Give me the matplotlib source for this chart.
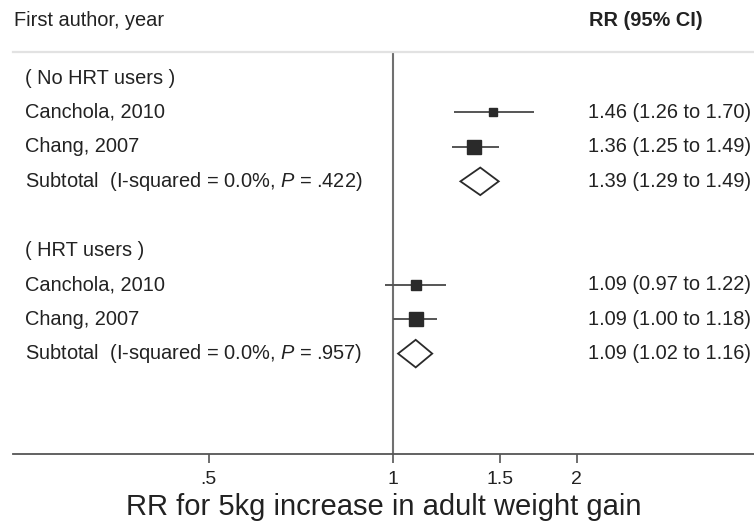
import matplotlib
matplotlib.use("Agg")
import matplotlib.pyplot as plt
from matplotlib.patches import Polygon
from matplotlib.transforms import blended_transform_factory

plt.rcParams["font.family"] = ["Liberation Sans", "DejaVu Sans"]
plt.rcParams["mathtext.fontset"] = "custom"
plt.rcParams["mathtext.rm"] = "Liberation Sans"
plt.rcParams["mathtext.it"] = "Liberation Sans:italic"

# Subgroups and their studies
group_labels = ["( No HRT users )", "( HRT users )"]
study_labels = [["Canchola, 2010", "Chang, 2007"], ["Canchola, 2010", "Chang, 2007"]]
study_rr = [[1.46, 1.36], [1.09, 1.09]]
study_lo = [[1.26, 1.25], [0.97, 1.00]]
study_hi = [[1.70, 1.49], [1.22, 1.18]]

# Pooled estimates per subgroup
subtotal_i2 = ["0.0%", "0.0%"]
subtotal_p = [".422", ".957"]
subtotal_rr = [1.39, 1.09]
subtotal_lo = [1.29, 1.02]
subtotal_hi = [1.49, 1.16]

# Axis ticks
tick_values = [0.5, 1, 1.5, 2]
tick_labels = [".5", "1", "1.5", "2"]

# Box sizes (points) for the study squares
box_sizes = [[5.8, 9.4], [7.2, 9.4]]

text_color = "#222222"
mark_color = "#2a2a2a"
line_color = "#555555"

fig = plt.figure(figsize=(7.54, 5.27), dpi=100)
W, H = 754, 527
ax_left, ax_right, ax_top, ax_bottom = 13, 754, 52, 454
ax = fig.add_axes([ax_left / W, 1 - ax_bottom / H,
                   (ax_right - ax_left) / W, (ax_bottom - ax_top) / H])

ax.set_xscale("log", base=2)
ax.set_xlim(0.2393, 3.896)
row_h = 34.45
first_row = 78
ax.set_ylim((ax_bottom - first_row) / row_h, (ax_top - first_row) / row_h)

trans = blended_transform_factory(ax.transAxes, ax.transData)
label_x = (25 - ax_left) / (ax_right - ax_left)
value_x = (588 - ax_left) / (ax_right - ax_left)
fs = 14.4

row = 0
for g in range(len(group_labels)):
    ax.text(label_x, row, group_labels[g], transform=trans, ha="left", va="center",
            fontsize=fs, color=text_color)
    row += 1
    for s in range(len(study_labels[g])):
        rr, lo, hi = study_rr[g][s], study_lo[g][s], study_hi[g][s]
        ax.plot([lo, hi], [row, row], color=line_color, lw=1.4, solid_capstyle="butt", zorder=3)
        ax.plot([rr], [row], marker="s", ms=box_sizes[g][s], color=mark_color,
                mec=mark_color, zorder=4)
        ax.text(label_x, row, study_labels[g][s], transform=trans, ha="left",
                va="center", fontsize=fs, color=text_color)
        ax.text(value_x, row, f"{rr:.2f} ({lo:.2f} to {hi:.2f})", transform=trans,
                ha="left", va="center", fontsize=fs, color=text_color)
        row += 1
    rr, lo, hi = subtotal_rr[g], subtotal_lo[g], subtotal_hi[g]
    diamond = Polygon([[lo, row], [rr, row - 0.4], [hi, row], [rr, row + 0.4]],
                      closed=True, facecolor="white", edgecolor=mark_color, lw=1.3, zorder=4)
    ax.add_patch(diamond)
    ax.text(label_x, row,
            f"Subtotal  (I-squared = {subtotal_i2[g]}, $\\mathit{{P}}$ = {subtotal_p[g]})",
            transform=trans, ha="left", va="center", fontsize=fs, color=text_color)
    ax.text(value_x, row, f"{rr:.2f} ({lo:.2f} to {hi:.2f})", transform=trans,
            ha="left", va="center", fontsize=fs, color=text_color)
    row += 2

# Line of no effect
ax.axvline(1, color="#707070", lw=1.5, zorder=2)

# Headers
fig.text(14 / W, 1 - 20 / H, "First author, year", ha="left", va="center",
         fontsize=fs, color=text_color)
fig.text(589 / W, 1 - 20 / H, "RR (95% CI)", ha="left", va="center",
         fontsize=fs, color=text_color, fontweight="bold")

# Axis styling
ax.set_xticks(tick_values)
ax.set_xticklabels(tick_labels)
ax.xaxis.set_minor_locator(matplotlib.ticker.NullLocator())
ax.set_yticks([])
ax.tick_params(axis="x", length=6.5, width=1.2, color="#555555", pad=6,
               labelsize=14, labelcolor=text_color)
for side in ("left", "right"):
    ax.spines[side].set_visible(False)
ax.spines["top"].set_color("#e2e2e2")
ax.spines["top"].set_linewidth(1.6)
ax.spines["bottom"].set_color("#555555")
ax.spines["bottom"].set_linewidth(1.3)
ax.set_xlabel("RR for 5kg increase in adult weight gain", fontsize=21,
              color=text_color, labelpad=3)

fig.savefig("out.png", dpi=100, facecolor="white")
